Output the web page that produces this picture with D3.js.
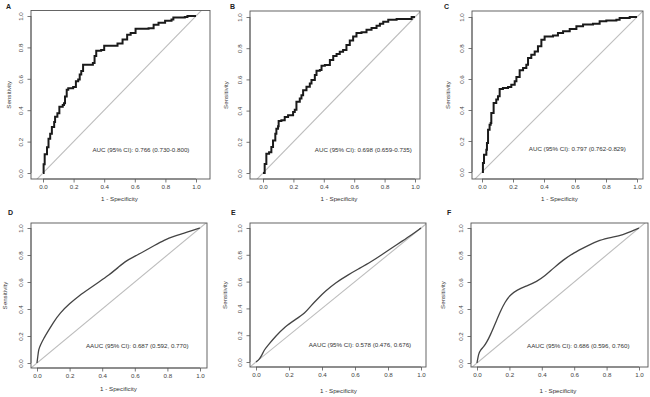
<!DOCTYPE html>
<html><head><meta charset="utf-8">
<script src="https://cdn.jsdelivr.net/npm/d3@7"></script>
<style>body{margin:0;background:#fff}svg{display:block}text{font-family:"Liberation Sans",Arial,sans-serif}</style>
</head><body>
<svg id="c" width="650" height="397"></svg>
<script>
// ---------- data ----------
const panelLetters = ["A","B","C","D","E","F"];
const aucLabels = [
  "AUC (95% CI): 0.766 (0.730-0.800)",
  "AUC (95% CI): 0.698 (0.659-0.735)",
  "AUC (95% CI): 0.797 (0.762-0.829)",
  "AAUC (95% CI): 0.687 (0.592, 0.770)",
  "AAUC (95% CI): 0.578 (0.476, 0.676)",
  "AAUC (95% CI): 0.686 (0.596, 0.760)"
];
const tickValues = [0, 0.2, 0.4, 0.6, 0.8, 1.0];
const tickLabels = ["0.0","0.2","0.4","0.6","0.8","1.0"];
const xTitle = "1 - Specificity";
const yTitle = "Sensitivity";

const fprA = [0,0.004,0.011,0.026,0.036,0.047,0.058,0.073,0.079,0.094,0.107,0.129,0.137,0.144,0.155,0.165,0.197,0.215,0.23,0.24,0.25,0.262,0.294,0.326,0.337,0.348,0.38,0.40,0.466,0.487,0.52,0.55,0.573,0.605,0.69,0.723,0.755,0.798,0.84,0.852,0.927,0.944,1];
const tprA = [0,0.056,0.12,0.164,0.218,0.25,0.293,0.325,0.358,0.38,0.422,0.433,0.444,0.487,0.53,0.54,0.547,0.584,0.595,0.627,0.65,0.69,0.69,0.70,0.746,0.778,0.784,0.81,0.81,0.825,0.85,0.88,0.892,0.918,0.922,0.944,0.957,0.97,0.978,0.99,0.994,1,1];

const fprB = [0,0.011,0.022,0.04,0.055,0.066,0.081,0.088,0.099,0.103,0.121,0.143,0.165,0.198,0.209,0.22,0.242,0.253,0.264,0.286,0.308,0.319,0.341,0.352,0.374,0.385,0.407,0.44,0.462,0.484,0.505,0.527,0.549,0.571,0.593,0.615,0.648,0.681,0.714,0.747,0.769,0.791,0.824,0.879,0.956,0.978,1];
const tprB = [0,0.058,0.123,0.133,0.166,0.209,0.252,0.284,0.299,0.333,0.338,0.359,0.37,0.391,0.406,0.456,0.477,0.499,0.531,0.553,0.574,0.596,0.628,0.656,0.66,0.688,0.692,0.725,0.75,0.763,0.778,0.789,0.82,0.849,0.875,0.897,0.903,0.918,0.929,0.944,0.957,0.97,0.983,0.987,0.987,1,1];

const fprC = [0,0.006,0.013,0.028,0.032,0.039,0.049,0.056,0.06,0.075,0.092,0.103,0.114,0.135,0.168,0.189,0.211,0.222,0.243,0.265,0.286,0.297,0.318,0.34,0.361,0.383,0.404,0.458,0.49,0.523,0.566,0.609,0.652,0.716,0.759,0.802,0.867,0.888,0.953,1];
const tprC = [0,0.058,0.112,0.144,0.187,0.273,0.305,0.316,0.381,0.445,0.467,0.488,0.535,0.542,0.548,0.563,0.585,0.613,0.656,0.671,0.692,0.735,0.757,0.778,0.811,0.854,0.875,0.88,0.897,0.908,0.923,0.94,0.951,0.957,0.972,0.978,0.983,0.994,1,1];

const fprD = [0,0.005,0.01,0.02,0.04,0.07,0.1,0.14,0.2,0.26,0.32,0.38,0.44,0.5,0.55,0.6,0.66,0.72,0.78,0.84,0.9,0.95,1];
const tprD = [0,0.05,0.1,0.13,0.18,0.24,0.3,0.37,0.44,0.5,0.55,0.6,0.65,0.71,0.76,0.79,0.83,0.87,0.91,0.94,0.96,0.98,1];

const fprE = [0,0.02,0.035,0.05,0.067,0.117,0.177,0.238,0.298,0.329,0.379,0.419,0.48,0.56,0.621,0.702,0.762,0.823,0.883,0.944,1];
const tprE = [0,0.02,0.05,0.09,0.117,0.19,0.266,0.316,0.366,0.415,0.478,0.527,0.59,0.652,0.694,0.751,0.801,0.851,0.9,0.95,1];

const fprF = [0,0.01,0.02,0.041,0.061,0.082,0.113,0.143,0.174,0.205,0.246,0.307,0.369,0.42,0.471,0.533,0.594,0.676,0.758,0.84,0.902,0.953,1];
const tprF = [0,0.07,0.094,0.119,0.156,0.206,0.293,0.38,0.454,0.504,0.541,0.571,0.603,0.645,0.702,0.764,0.814,0.864,0.913,0.933,0.95,0.975,1];

const seriesFpr = [fprA, fprB, fprC, fprD, fprE, fprF];
const seriesTpr = [tprA, tprB, tprC, tprD, tprE, tprF];

// ---------- layout ----------
const layout = [
  {box:[31,210,10.5,179], xr:[43,196],  yr:[173,16],  lx:6,   ly:9,   tx:0.64,  ty:0.15, step:true,  yt:-20, xt:200.5},
  {box:[250,420,11,179],  xr:[263,415], yr:[173,17],  lx:230, ly:9,   tx:0.66,  ty:0.15, step:true,  yt:-22, xt:200.5},
  {box:[472,643,11,179],  xr:[482,637], yr:[172,17],  lx:444, ly:9,   tx:0.615, ty:0.15, step:true,  yt:-22, xt:200.5},
  {box:[31,207,223,368],  xr:[37,200],  yr:[363,228], lx:8,   ly:215, tx:0.615, ty:0.125, step:false, yt:-24, xt:390.5},
  {box:[250,426,223,367], xr:[256,421], yr:[362,228], lx:231, ly:215, tx:0.63,  ty:0.125, step:false, yt:-23, xt:392.5},
  {box:[471,648,223,367], xr:[477,639], yr:[363,228], lx:447, ly:215, tx:0.625, ty:0.125, step:false, yt:-26, xt:392.5}
];

const svg = d3.select("#c");
const defs = svg.append("defs");
const fs = 6.2;
const font = '"Liberation Sans",Arial,sans-serif';

layout.forEach((L, i) => {
  const [bx0, bx1, by0, by1] = L.box;
  const x = d3.scaleLinear().domain([0,1]).range(L.xr);
  const y = d3.scaleLinear().domain([0,1]).range(L.yr);
  const g = svg.append("g");

  defs.append("clipPath").attr("id","clip"+i)
    .append("rect").attr("x",bx0).attr("y",by0).attr("width",bx1-bx0).attr("height",by1-by0);

  // diagonal reference line (abline) clipped to plot region
  const dlo = Math.min(x.invert(bx0), y.invert(by1)) - 0.2;
  const dhi = Math.max(x.invert(bx1), y.invert(by0)) + 0.2;
  g.append("line").attr("clip-path","url(#clip"+i+")")
    .attr("x1",x(dlo)).attr("y1",y(dlo)).attr("x2",x(dhi)).attr("y2",y(dhi))
    .attr("stroke","#bdbdbd").attr("stroke-width",1.1);

  // ROC curve
  const pts = seriesFpr[i].map((v,k)=>[v, seriesTpr[i][k]]);
  const line = d3.line().x(d=>x(d[0])).y(d=>y(d[1]))
    .curve(L.step ? d3.curveStepAfter : d3.curveBasis);
  g.append("path").datum(pts).attr("clip-path","url(#clip"+i+")")
    .attr("d", line).attr("fill","none")
    .attr("stroke", L.step ? "#1a1a1a" : "#444")
    .attr("stroke-width", L.step ? 2 : 1.3)
    .attr("stroke-linejoin","miter");

  // box
  g.append("rect").attr("x",bx0).attr("y",by0).attr("width",bx1-bx0).attr("height",by1-by0)
    .attr("fill","none").attr("stroke","#555").attr("stroke-width",0.9);

  // x axis
  const xa = d3.axisBottom(x).tickValues(tickValues).tickFormat((d,k)=>tickLabels[k]).tickSize(3.5).tickPadding(2.5);
  const gx = g.append("g").attr("transform",`translate(0,${by1})`).call(xa);
  gx.select(".domain").attr("stroke","#555").attr("stroke-width",0.8).attr("d",`M${x(0)},0H${x(1)}`);
  gx.selectAll(".tick line").attr("stroke","#555").attr("stroke-width",0.8);
  gx.selectAll(".tick text").attr("font-size",fs).attr("fill","#444").attr("font-family",font);

  // y axis (labels rotated, parallel to axis)
  const ya = d3.axisLeft(y).tickValues(tickValues).tickFormat((d,k)=>tickLabels[k]).tickSize(3.5).tickPadding(2);
  const gy = g.append("g").attr("transform",`translate(${bx0},0)`).call(ya);
  gy.select(".domain").attr("stroke","#555").attr("stroke-width",0.8).attr("d",`M0,${y(0)}V${y(1)}`);
  gy.selectAll(".tick line").attr("stroke","#555").attr("stroke-width",0.8);
  gy.selectAll(".tick text").attr("font-size",fs).attr("fill","#444").attr("font-family",font)
    .attr("text-anchor","middle").attr("dy",null).attr("x",null)
    .attr("transform","translate(-8.5,0) rotate(-90)");

  // axis titles
  g.append("text").attr("x",(x(0)+x(1))/2).attr("y",L.xt).attr("text-anchor","middle")
    .attr("font-size",fs).attr("fill","#333").text(xTitle);
  const ymid = (by0+by1)/2;
  g.append("text").attr("transform",`translate(${bx0+L.yt},${ymid}) rotate(-90)`)
    .attr("text-anchor","middle").attr("font-size",fs).attr("fill","#333").text(yTitle);

  // AUC annotation
  g.append("text").attr("x",x(L.tx)).attr("y",y(L.ty)).attr("dy","0.35em").attr("text-anchor","middle")
    .attr("font-size",fs).attr("fill","#333").text(aucLabels[i]);

  // panel letter
  g.append("text").attr("x",L.lx).attr("y",L.ly).attr("font-size",7).attr("font-weight","bold")
    .attr("fill","#222").text(panelLetters[i]);
});
</script>
</body></html>
